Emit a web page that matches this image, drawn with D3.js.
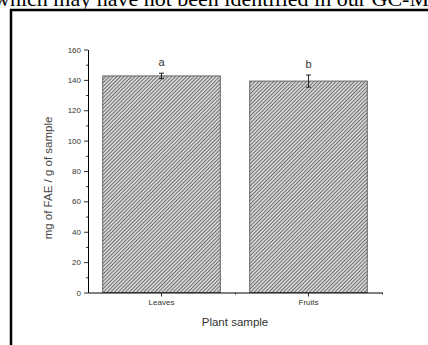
<!DOCTYPE html>
<html>
<head>
<meta charset="utf-8">
<script src="https://cdn.jsdelivr.net/npm/d3@7"></script>
<style>
  body { margin: 0; background: #fff; }
  svg { display: block; }
</style>
</head>
<body>
<div id="chart"></div>
<script>
// chart values
var categories = ["Leaves", "Fruits"];
var values = [142.6, 139.2];
var errors = [1.8, 4.0];
var groupLetters = ["a", "b"];
var yTicks = [0, 20, 40, 60, 80, 100, 120, 140, 160];

var svgWidth = 428;
var svgHeight = 345;

var margin = { top: 49.5, right: 46, bottom: 52.5, left: 88 };
var width = svgWidth - margin.left - margin.right;
var height = svgHeight - margin.top - margin.bottom;

var svg = d3.select("#chart")
    .append("svg")
    .attr("width", svgWidth)
    .attr("height", svgHeight);

// hatch pattern for the bars
var defs = svg.append("defs");
var pat = defs.append("pattern")
    .attr("id", "hatch")
    .attr("patternUnits", "userSpaceOnUse")
    .attr("width", 2.6)
    .attr("height", 2.6)
    .attr("patternTransform", "rotate(45)");
pat.append("rect").attr("width", 2.6).attr("height", 2.6).attr("fill", "#d4d4d4");
pat.append("line")
    .attr("x1", 0).attr("y1", 0).attr("x2", 0).attr("y2", 2.6)
    .attr("stroke", "#444").attr("stroke-width", 1.3);

// page text above the figure (cut off)
svg.append("text")
    .attr("x", -6)
    .attr("y", 6)
    .attr("font-family", "Liberation Serif, Times New Roman, serif")
    .attr("font-size", 22)
    .attr("fill", "#000")
    .text("which may have not been identified in our GC-MS analysis");

// figure frame
svg.append("path")
    .attr("d", "M11,400 L11,10 L440,10")
    .attr("fill", "none")
    .attr("stroke", "#000")
    .attr("stroke-width", 2.5);

var chartGroup = svg.append("g")
    .attr("transform", `translate(${margin.left}, ${margin.top})`);

var xScale = d3.scaleBand()
    .domain(categories)
    .range([0, width])
    .paddingInner(0.2)
    .paddingOuter(0.1);

var xBand = d3.scaleBand()
    .domain(categories)
    .range([0, width]);

var yScale = d3.scaleLinear()
    .domain([0, 160])
    .range([height, 0]);

// bars
chartGroup.selectAll(".bar")
    .data(values)
    .enter()
    .append("rect")
    .attr("class", "bar")
    .attr("x", (d, i) => xScale(categories[i]))
    .attr("y", d => yScale(d))
    .attr("width", xScale.bandwidth())
    .attr("height", d => height - yScale(d))
    .attr("fill", "url(#hatch)")
    .attr("stroke", "#666")
    .attr("stroke-width", 1);

// error bars
var errG = chartGroup.selectAll(".err")
    .data(values)
    .enter()
    .append("g")
    .attr("class", "err")
    .attr("stroke", "#222")
    .attr("stroke-width", 1);
errG.append("line")
    .attr("x1", (d, i) => xBand(categories[i]) + xBand.bandwidth() / 2)
    .attr("x2", (d, i) => xBand(categories[i]) + xBand.bandwidth() / 2)
    .attr("y1", (d, i) => yScale(d + errors[i]))
    .attr("y2", (d, i) => yScale(d - errors[i]));
errG.append("line")
    .attr("x1", (d, i) => xBand(categories[i]) + xBand.bandwidth() / 2 - 2.5)
    .attr("x2", (d, i) => xBand(categories[i]) + xBand.bandwidth() / 2 + 2.5)
    .attr("y1", (d, i) => yScale(d + errors[i]))
    .attr("y2", (d, i) => yScale(d + errors[i]));
errG.append("line")
    .attr("x1", (d, i) => xBand(categories[i]) + xBand.bandwidth() / 2 - 2.5)
    .attr("x2", (d, i) => xBand(categories[i]) + xBand.bandwidth() / 2 + 2.5)
    .attr("y1", (d, i) => yScale(d - errors[i]))
    .attr("y2", (d, i) => yScale(d - errors[i]));

// significance letters
chartGroup.selectAll(".letter")
    .data(values)
    .enter()
    .append("text")
    .attr("class", "letter")
    .attr("x", (d, i) => xBand(categories[i]) + xBand.bandwidth() / 2)
    .attr("y", (d, i) => yScale(d + errors[i]) - 7)
    .attr("text-anchor", "middle")
    .attr("font-family", "Liberation Sans, Arial, sans-serif")
    .attr("font-size", 11)
    .attr("fill", "#333")
    .text((d, i) => groupLetters[i]);

// y axis
var yAxis = d3.axisLeft(yScale).tickValues(yTicks).tickSize(4).tickSizeOuter(0).tickPadding(3);
chartGroup.append("g").call(yAxis);
// minor ticks
chartGroup.append("g")
    .call(d3.axisLeft(yScale).tickValues(d3.range(10, 160, 20)).tickSize(2).tickFormat(""))
    .call(g => g.select(".domain").remove());

// x axis
var xAxis = d3.axisBottom(xBand).tickSize(4).tickSizeOuter(0).tickPadding(3);
chartGroup.append("g")
    .attr("transform", `translate(0, ${height})`)
    .call(xAxis);
chartGroup.append("g")
    .attr("transform", `translate(0, ${height})`)
    .call(d3.axisBottom(d3.scaleLinear().domain([0, 1]).range([0, width])).tickValues([0.5, 1]).tickSize(2).tickFormat(""))
    .call(g => g.select(".domain").remove());

chartGroup.selectAll(".domain").attr("stroke", "#000");
chartGroup.selectAll(".tick line").attr("stroke", "#333");
chartGroup.selectAll(".tick text")
    .attr("font-family", "Liberation Sans, Arial, sans-serif")
    .attr("font-size", 8)
    .attr("fill", "#333");

// axis titles
chartGroup.append("text")
    .attr("transform", "rotate(-90)")
    .attr("x", -height / 2 - 7)
    .attr("y", -36)
    .attr("text-anchor", "middle")
    .attr("font-family", "Liberation Sans, Arial, sans-serif")
    .attr("font-size", 11.5)
    .attr("fill", "#444")
    .text("mg of FAE / g of sample");

chartGroup.append("text")
    .attr("x", width / 2)
    .attr("y", height + 33)
    .attr("text-anchor", "middle")
    .attr("font-family", "Liberation Sans, Arial, sans-serif")
    .attr("font-size", 11.5)
    .attr("fill", "#333")
    .text("Plant sample");
</script>
</body>
</html>
